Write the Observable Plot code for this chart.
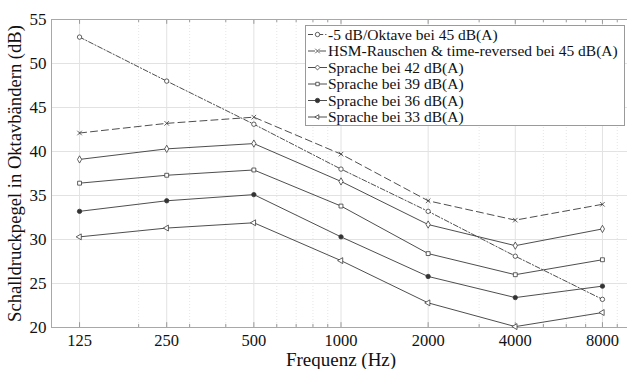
<!DOCTYPE html>
<html><head><meta charset="utf-8">
<script src="https://cdn.jsdelivr.net/npm/d3@7"></script>
<script src="https://cdn.jsdelivr.net/npm/@observablehq/plot@0.6"></script>
<style>
html,body{margin:0;padding:0;background:#fff;overflow:hidden}
#wrap{position:relative;width:627px;height:369px;overflow:hidden}
#wrap svg{display:block;max-width:none !important}
#wrap, #wrap svg, #wrap svg text{font-family:"Liberation Serif","Times New Roman",Times,"DejaVu Serif",serif !important}
#legend{position:absolute;left:305px;top:25px;width:320px;height:101px;border:1px solid #9a9a9a;background:#fff;box-sizing:border-box}
</style></head><body><div id="wrap"><div id="chart"></div><div id="legend"></div></div>
<script>
const freqs = [125, 250, 500, 1000, 2000, 4000, 8000];
const minorFreqs = [200, 300, 400, 600, 700, 800, 900, 3000, 5000, 6000, 7000, 9000];
const yTicks = [20, 25, 30, 35, 40, 45, 50, 55];
const seriesNames = [
  "-5 dB/Oktave bei 45 dB(A)",
  "HSM-Rauschen & time-reversed bei 45 dB(A)",
  "Sprache bei 42 dB(A)",
  "Sprache bei 39 dB(A)",
  "Sprache bei 36 dB(A)",
  "Sprache bei 33 dB(A)"
];
const oktave45 = [53.0, 48.0, 43.1, 38.0, 33.2, 28.1, 23.2];
const hsm45    = [42.1, 43.2, 43.9, 39.7, 34.4, 32.2, 34.0];
const sprache42 = [39.1, 40.3, 40.9, 36.6, 31.7, 29.3, 31.2];
const sprache39 = [36.4, 37.3, 37.9, 33.8, 28.4, 26.0, 27.7];
const sprache36 = [33.2, 34.4, 35.1, 30.3, 25.8, 23.4, 24.7];
const sprache33 = [30.3, 31.3, 31.9, 27.6, 22.8, 20.1, 21.7];
const xLabel = "Frequenz (Hz)";
const yLabel = "Schalldruckpegel in Oktavbändern (dB)";

const allSeries = [oktave45, hsm45, sprache42, sprache39, sprache36, sprache33];
const styles = [
  {dash: "5,2,1.2,2", symbol: "circle", fill: "white", rotate: 0},
  {dash: "7,4", symbol: "times", fill: "none", rotate: 0},
  {dash: null, symbol: "diamond", fill: "white", rotate: 0},
  {dash: null, symbol: "square", fill: "white", rotate: 0},
  {dash: null, symbol: "circle", fill: "#333", rotate: 0},
  {dash: null, symbol: "triangle", fill: "white", rotate: -90}
];
const lineColor = "#3a3a3a";

const rows = [];
allSeries.forEach((vals, si) => vals.forEach((v, i) => rows.push({s: si, f: freqs[i], v})));

const marks = [
  Plot.ruleY(yTicks, {y: d => d, stroke: "#e2e2e2", strokeWidth: 1}),
  Plot.ruleX(minorFreqs, {x: d => d, stroke: "#e6e6e6", strokeDasharray: "1,2"}),
  Plot.ruleX(freqs, {x: d => d, stroke: "#e2e2e2"}),
  Plot.ruleX(freqs, {x: d => d, y1: 20, y2: 20.55, stroke: "#999"}),
  Plot.ruleX(freqs, {x: d => d, y1: 54.45, y2: 55, stroke: "#999"}),
  Plot.ruleX(minorFreqs, {x: d => d, y1: 20, y2: 20.35, stroke: "#999"}),
  Plot.ruleX(minorFreqs, {x: d => d, y1: 54.65, y2: 55, stroke: "#999"}),
  Plot.frame({stroke: "#a8a8a8"})
];
styles.forEach((st, si) => {
  const data = rows.filter(r => r.s === si);
  marks.push(Plot.line(data, {x: "f", y: "v", stroke: lineColor, strokeWidth: 0.9, strokeDasharray: st.dash}));
  marks.push(Plot.dot(data, {x: "f", y: "v", symbol: () => st.symbol, r: 2.2, stroke: lineColor, strokeWidth: 0.8, fill: st.fill, rotate: st.rotate}));
});
marks.push(
  Plot.text(freqs, {x: d => d, frameAnchor: "bottom", dy: 13, text: d => String(d), fontSize: 16.5, fill: "#111", lineAnchor: "middle", textAnchor: "middle"}),
  Plot.axisY({ticks: yTicks, tickSize: 0, tickPadding: 5, label: null, fontSize: 17}),
  Plot.text([xLabel], {frameAnchor: "bottom", dy: 32, text: d => d, fontSize: 19, fill: "#111", lineAnchor: "middle", textAnchor: "middle"}),
  Plot.text([yLabel], {frameAnchor: "left", dx: -36, rotate: -90, text: d => d, fontSize: 18.6, fill: "#111", lineAnchor: "middle", textAnchor: "middle"})
);

const chart = Plot.plot({
  width: 630,
  height: 369,
  marginLeft: 51,
  marginRight: 0,
  marginTop: 19,
  marginBottom: 42,
  style: {color: "#111", background: "white", overflow: "visible", maxWidth: "none"},
  x: {type: "log", domain: [100, 10000], axis: null},
  y: {domain: [20, 55]},
  marks
});
document.getElementById("chart").appendChild(chart);

// legend
const lg = d3.select("#legend").append("svg").attr("width", 318).attr("height", 99);
const symMap = {circle: d3.symbolCircle, times: d3.symbolTimes, diamond: d3.symbolDiamond2 || d3.symbolDiamond, square: d3.symbolSquare2 || d3.symbolSquare, triangle: d3.symbolTriangle2 || d3.symbolTriangle};
seriesNames.forEach((name, i) => {
  const st = styles[i];
  const y = 8.5 + i * 16.5;
  const g = lg.append("g").attr("transform", `translate(0,${y})`);
  g.append("line").attr("x1", 2).attr("x2", 21).attr("y1", 0).attr("y2", 0)
    .attr("stroke", lineColor).attr("stroke-width", 0.9).attr("stroke-dasharray", st.dash || null);
  const size = (2.2 * 2.2) * Math.PI;
  g.append("path").attr("d", d3.symbol(symMap[st.symbol], size)()).attr("transform", `translate(11.5,0) rotate(${st.rotate})`)
    .attr("stroke", lineColor).attr("stroke-width", 0.8).attr("fill", st.fill);
  g.append("text").attr("x", 22).attr("y", 0).attr("dy", "0.35em").attr("font-size", 15.5).attr("fill", "#111").text(name);
});
</script>
</body></html>
